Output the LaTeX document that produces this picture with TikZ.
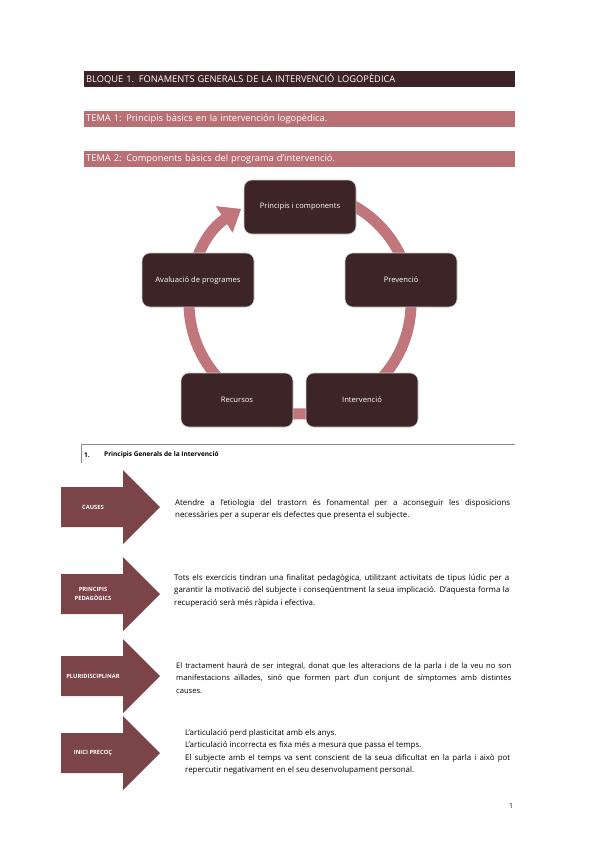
\documentclass[tikz,border=0pt]{standalone}
\usepackage{fontspec}
\setmainfont{Open Sans}
\usepackage{tikz}
\usetikzlibrary{arrows.meta}
\hyphenpenalty=10000
\exhyphenpenalty=10000
\definecolor{bloquedark}{HTML}{3D2427}
\definecolor{temarose}{HTML}{B97074}
\definecolor{ringrose}{HTML}{C0767B}
\definecolor{arrowbrown}{HTML}{7A4448}
\def\blockarrow(#1)[#2]#3{\fill[arrowbrown] (61,#1-20) -- (123,#1-20) -- (123,#1-37) -- (160,#1) -- (123,#1+37) -- (123,#1+20) -- (61,#1+20) -- cycle;
	\node[arrowlabel] (#2) at (93,#1) {#3};}
\tikzset{
	cyclebox/.style={rounded corners=8pt, fill=bloquedark, draw=white!80!black, line width=0.6pt, minimum width=112pt, minimum height=54pt, text=white, font=\fontsize{7.6}{8}\selectfont},
	arrowlabel/.style={text=white, font=\bfseries\fontsize{5.8}{9}\selectfont, align=center},
	bodytext/.style={anchor=north west, inner sep=0pt, text width=335pt, align=justify, font=\fontsize{7.9}{12.5}\selectfont},
	temabar/.style={anchor=north west, minimum height=16pt, inner xsep=2pt, inner ysep=0pt, text width=427pt, align=left, text=white, font=\fontsize{9.3}{10}\selectfont}
}
\begin{document}
\begin{tikzpicture}[x=1pt, y=-1pt]
		%%%%% START %%%%%
		
		\fill[white] (0, 0) rectangle (599, 848);
		\useasboundingbox (0, 0) rectangle (599, 848);
		
		\node[temabar, fill=bloquedark] (bloque) at (84, 71) {BLOQUE 1. FONAMENTS GENERALS DE LA INTERVENCIÓ LOGOPÈDICA};
		\node[temabar, fill=temarose] (tema1) at (84, 111) {TEMA 1: Principis bàsics en la intervención logopèdica.};
		\node[temabar, fill=temarose] (tema2) at (84, 151) {TEMA 2: Components bàsics del programa d'intervenció.};
		
		\draw[line width=11pt, color=ringrose, -{Triangle[width=30pt, length=20pt]}] (300, 303) ++(260:111) arc (260:598:111);
		
		\node[cyclebox] (principis) at (300, 207) {Principis i components};
		\node[cyclebox] (prevencio) at (401, 280) {Prevenció};
		\node[cyclebox] (intervencio) at (362, 400) {Intervenció};
		\node[cyclebox] (recursos) at (237, 400) {Recursos};
		\node[cyclebox] (avaluacio) at (198, 280) {Avaluació de programes};
		
		\draw[line width=0.6pt, color=black!45] (81, 463) -- (81, 444) -- (515, 444);
		\node[anchor=west, inner sep=0pt, font=\bfseries\fontsize{6.5}{8}\selectfont] (num) at (84, 455) {1.};
		\node[anchor=west, inner sep=0pt, font=\bfseries\fontsize{6.5}{8}\selectfont] (seccio) at (104, 455) {Principis Generals de la Intervenció};
		
		\blockarrow(507)[causes]{CAUSES}
		\node[bodytext] (textcauses) at (175, 499) {Atendre a l'etiologia del trastorn és fonamental per a aconseguir les disposicions\linebreak necessàries per a superar els defectes que presenta el subjecte.};
		
		\blockarrow(594)[pedagogics]{PRINCIPIS\\PEDAGÒGICS}
		\node[bodytext] (textpedagogics) at (174, 574) {Tots els exercicis tindran una finalitat pedagògica, utilitzant activitats de tipus lúdic per a garantir la motivació del subjecte i conseqüentment la seua implicació. D'aquesta forma la recuperació serà més ràpida i efectiva.};
		
		\blockarrow(676)[pluri]{PLURIDISCIPLINAR}
		\node[bodytext, font=\fontsize{7.6}{12.5}\selectfont] (textpluri) at (176, 662) {El tractament haurà de ser integral, donat que les alteracions de la parla i de la veu no son\linebreak manifestacions aïllades, sinó que formen part d'un conjunt de símptomes amb distintes\linebreak causes.};
		
		\blockarrow(753)[precoc]{INICI PRECOÇ}
		\node[bodytext, text width=325pt] (textprecoc) at (185, 729) {L'articulació perd plasticitat amb els anys.\\ L'articulació incorrecta es fixa més a mesura que passa el temps.\\ El subjecte amb el temps va sent conscient de la seua dificultat en la parla i això pot repercutir negativament en el seu desenvolupament personal.};
		
		\node[inner sep=0pt, font=\fontsize{7}{8}\selectfont] (pagina) at (511, 806) {1};
		
		%%%%% END %%%%%
	\end{tikzpicture}
\end{document}
